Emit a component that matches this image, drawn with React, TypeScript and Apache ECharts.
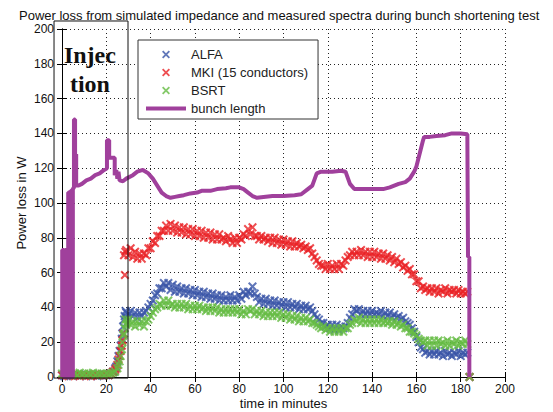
import React, { useEffect, useRef } from 'react';
import * as echarts from 'echarts';

// Power loss values sampled every minute, t = 0 .. 184
const alfa: number[] = [
  1, 0.5, 1, 1.5, 1, 0.5, 1, 1, 1.5, 1,
  1, 0.5, 1, 1, 1.5, 1, 0.5, 1, 1, 1.5,
  1, 1, 2, 3, 5, 9, 15, 22,
  33, 37,
  36, 38, 35, 37, 34, 37, 35, 37, 38, 40,
  42, 44, 47, 48, 51, 51, 54, 52,
  54, 50, 53, 49, 52, 49, 51, 48, 51, 48,
  50, 47, 50, 47, 49, 46, 49, 46, 48, 45,
  48, 45, 47, 44, 47, 44, 46, 44, 47, 44,
  46, 44, 47, 45, 49, 47, 49, 48, 52, 48,
  46, 43, 45, 42, 45, 42, 44, 41, 44, 41,
  43, 41, 43, 40, 43, 40, 42, 40, 42, 39,
  41, 39, 41, 39, 40, 38, 36, 34, 33, 31,
  31, 29, 30, 28, 30, 27, 30, 27, 29, 28,
  29, 31, 34, 36, 39, 38, 39, 36, 38, 36,
  38, 36, 38, 36, 37, 36, 38, 35, 37, 35,
  37, 34, 36, 34, 35, 33, 34, 32, 31, 30,
  28, 26, 23, 20, 17, 16, 14, 15, 13, 15,
  13, 15, 13, 14, 12, 15, 13, 14, 12, 14,
  13, 15, 12, 14, 13, 14, 0,
];
const mki: number[] = [
  1, 1.5, 1, 0.5, 1, 1.5, 1, 1, 0.5, 1,
  1.5, 1, 1, 0.5, 1, 1.5, 1, 1, 1.5, 1,
  1.5, 1, 2, 3, 4, 7, 12, 18,
  70, 73,
  70, 74, 69, 72, 68, 71, 68, 71, 70, 74,
  74, 78, 77, 81, 81, 84, 84, 87,
  84, 88, 84, 87, 83, 86, 83, 86, 82, 85,
  82, 85, 81, 84, 81, 84, 80, 83, 80, 83,
  79, 82, 79, 82, 79, 80, 78, 81, 79, 77,
  80, 77, 80, 79, 82, 81, 85, 82, 86, 81,
  81, 79, 81, 79, 80, 78, 80, 77, 80, 77,
  79, 76, 79, 76, 78, 75, 78, 75, 77, 75,
  76, 74, 75, 73, 74, 71, 69, 67, 65, 64,
  64, 62, 65, 62, 64, 62, 65, 62, 65, 64,
  67, 69, 70, 72, 70, 72, 70, 73, 70, 72,
  69, 72, 69, 72, 69, 71, 68, 71, 68, 70,
  67, 69, 66, 68, 65, 66, 63, 64, 61, 62,
  59, 59, 55, 55, 51, 52, 50, 51, 49, 51,
  49, 51, 48, 50, 49, 51, 48, 50, 49, 50,
  48, 50, 48, 49, 48, 49, 0,
];
const bsrt: number[] = [
  2, 1.5, 2.5, 1, 2, 1.5, 2, 1, 2.5, 1.5,
  2, 1, 2, 1.5, 2.5, 1, 2, 1.5, 2, 1,
  2, 1.5, 2, 2.5, 3, 5, 9, 16,
  25, 30,
  33, 30, 32, 29, 32, 30, 32, 29, 32, 33,
  35, 37, 39, 40, 42, 41, 44, 41,
  44, 41, 42, 40, 42, 40, 42, 40, 42, 39,
  41, 39, 41, 39, 41, 39, 40, 38, 40, 38,
  40, 38, 40, 37, 39, 37, 39, 37, 39, 37,
  39, 37, 39, 36, 38, 36, 39, 38, 39, 36,
  38, 36, 38, 35, 37, 35, 37, 35, 37, 35,
  37, 34, 36, 34, 36, 33, 35, 33, 35, 32,
  34, 32, 34, 32, 33, 31, 31, 30, 29, 28,
  29, 27, 28, 26, 28, 26, 28, 26, 28, 26,
  28, 28, 30, 31, 33, 32, 34, 31, 33, 31,
  33, 31, 33, 31, 33, 31, 33, 31, 32, 31,
  32, 30, 32, 30, 31, 29, 30, 28, 28, 26,
  26, 25, 24, 22, 21, 20, 21, 18, 21, 18,
  21, 18, 21, 19, 20, 18, 21, 18, 20, 19,
  21, 18, 20, 19, 21, 19, 0,
];

// extra scattered points during the ramp at end of injection [time, W]
const alfaRamp: number[][] = [[23.5, 3], [24.5, 6], [25.5, 12], [26.5, 18], [27.2, 25], [27.6, 29], [28.3, 35], [28.7, 38], [29.3, 34]];
const mkiRamp: number[][] = [[24.5, 5], [25.5, 10], [26.5, 15], [27.3, 21], [27.7, 25], [28.4, 58.6], [28.6, 72]];
const bsrtRamp: number[][] = [[25.5, 7], [26.5, 12], [27.3, 20], [27.7, 24], [28.3, 28], [28.7, 33], [29.3, 31]];

// bunch length trace [time, value]
const bunchLength: number[][] = [
  [0.1, 0], [0.1, 73], [0.9, 73], [0.9, 0], [1.5, 0], [1.5, 73], [2.2, 73], [2.2, 0],
  [2.8, 0], [2.8, 52], [2.8, 106], [3.3, 106], [3.3, 0], [3.9, 0], [3.9, 107], [4.5, 107],
  [4.5, 0], [4.9, 0], [4.9, 108], [5.4, 109], [5.4, 148], [5.9, 148], [5.9, 128], [6.4, 128],
  [6.4, 110], [7.5, 110], [9, 111], [11, 113], [13, 114], [15, 116], [17, 117], [19, 119],
  [20.3, 120], [20.3, 136], [21.3, 136], [21.3, 126], [23.8, 126], [23.8, 116], [24.5, 119],
  [25, 114], [25.5, 118], [26, 113], [27.5, 112.5], [29, 114], [32, 116], [34, 118], [36.5, 119],
  [39, 117], [41, 114], [43, 110], [45, 106], [47, 104], [49, 103], [51, 103.5], [53, 104],
  [55, 104.5], [58, 105.5], [61, 106], [63, 107], [67, 107], [70, 108], [74, 108.5], [76, 109],
  [80, 109], [82, 108], [84, 106], [86, 104], [88, 103], [91, 103.5], [95, 104], [100, 104],
  [105, 104.5], [108, 105], [111, 108], [113, 110], [115, 117], [117, 118], [122, 118],
  [126, 118.5], [128, 118], [130, 111], [132, 108], [135, 108], [140, 108], [145, 108],
  [148, 109], [150, 110], [152, 111], [155, 112], [157, 114], [159, 118], [160, 121],
  [161, 126], [162, 131], [163, 136], [163.5, 138], [166, 138], [169, 138.5], [173, 139],
  [176, 140], [180, 140], [183, 139.5], [183.3, 69], [183.9, 69], [183.9, 0],
];

const X_SYMBOL = 'path://M0,1.6L1.6,0L5,3.4L8.4,0L10,1.6L6.6,5L10,8.4L8.4,10L5,6.6L1.6,10L0,8.4L3.4,5Z';
const LINE_ICON = 'path://M0,0H40V4H0Z';
const FONT = 'Liberation Sans, Arial, sans-serif';

const toPairs = (vals: number[], extra: number[][]) =>
  vals.map((v, i) => [i, v]).concat(extra);

export default function App() {
  const ref = useRef<HTMLDivElement>(null);
  useEffect(() => {
    document.body.style.margin = '0';
    if (!ref.current) return;
    const chart = echarts.init(ref.current, undefined, { renderer: 'svg' });
    const axisCommon = {
      type: 'value' as const,
      min: 0,
      max: 200,
      interval: 20,
      axisLine: { show: true, lineStyle: { color: '#000', width: 1 } },
      axisTick: { show: true, inside: true, length: 5, lineStyle: { color: '#000' } },
    };
    const gridLine = { show: true, lineStyle: { color: '#222', type: [1, 3], width: 1 } };
    chart.setOption({
      animation: false,
      backgroundColor: '#fff',
      title: {
        text: 'Power loss from simulated impedance and measured spectra during bunch shortening test',
        left: 14,
        top: 4,
        textStyle: { fontFamily: FONT, fontSize: 13, fontWeight: 'normal', color: '#111' },
      },
      grid: { left: 62, right: 48, top: 29, bottom: 35, containLabel: false, outerBoundsMode: 'none' },
      legend: {
        left: 138,
        top: 40,
        orient: 'vertical',
        selectedMode: false,
        itemWidth: 40,
        itemHeight: 8,
        itemGap: 5,
        padding: [8, 10, 4, 8],
        borderColor: '#333',
        borderWidth: 1,
        borderRadius: 0,
        backgroundColor: '#fff',
        textStyle: { fontFamily: FONT, fontSize: 13, color: '#222' },
        data: [
          { name: 'ALFA', icon: X_SYMBOL },
          { name: 'MKI (15 conductors)', icon: X_SYMBOL },
          { name: 'BSRT', icon: X_SYMBOL },
          { name: 'bunch length', icon: LINE_ICON },
        ],
      },
      xAxis: [
        {
          ...axisCommon,
          position: 'bottom',
          name: 'time in minutes',
          nameLocation: 'middle',
          nameGap: 20,
          nameMoveOverlap: false,
          nameTextStyle: { fontFamily: FONT, fontSize: 13, color: '#111' },
          axisLabel: { fontFamily: FONT, fontSize: 12, color: '#111', margin: 6 },
          splitLine: gridLine,
        },
        {
          ...axisCommon,
          position: 'top',
          axisLabel: { show: false },
          splitLine: { show: false },
        },
      ],
      yAxis: [
        {
          ...axisCommon,
          position: 'left',
          name: 'Power loss in W',
          nameLocation: 'middle',
          nameGap: 34,
          nameMoveOverlap: false,
          nameTextStyle: { fontFamily: FONT, fontSize: 13, color: '#111' },
          axisLabel: { fontFamily: FONT, fontSize: 12, color: '#111', margin: 8 },
          splitLine: gridLine,
        },
        {
          ...axisCommon,
          position: 'right',
          axisLabel: { show: false },
          splitLine: { show: false },
        },
      ],
      series: [
        {
          type: 'scatter',
          name: 'ALFA',
          data: toPairs(alfa, alfaRamp),
          symbol: X_SYMBOL,
          symbolSize: 9,
          itemStyle: { color: '#3a55a8' },
          z: 2,
        },
        {
          type: 'scatter',
          name: 'MKI (15 conductors)',
          data: toPairs(mki, mkiRamp),
          symbol: X_SYMBOL,
          symbolSize: 9,
          itemStyle: { color: '#ea2226' },
          z: 3,
        },
        {
          type: 'scatter',
          name: 'BSRT',
          data: toPairs(bsrt, bsrtRamp),
          symbol: X_SYMBOL,
          symbolSize: 9,
          itemStyle: { color: '#65bb44' },
          z: 4,
        },
        {
          type: 'line',
          name: 'bunch length',
          data: bunchLength,
          showSymbol: false,
          symbol: 'none',
          lineStyle: { color: '#a0409c', width: 4 },
          itemStyle: { color: '#a0409c' },
          z: 5,
        },
      ],
    });

    const finder = { xAxisIndex: 0, yAxisIndex: 0 };
    const p1 = chart.convertToPixel(finder, [-3.6, 204.6]) as number[];
    const p2 = chart.convertToPixel(finder, [29.8, -0.6]) as number[];
    const t1 = chart.convertToPixel(finder, [12.6, 185]) as number[];
    const t2 = chart.convertToPixel(finder, [12.6, 168.4]) as number[];
    const injStyle = {
      fill: '#111',
      font: 'bold 24px "Liberation Serif", "Times New Roman", serif',
      align: 'center',
      verticalAlign: 'middle',
    };
    chart.setOption({
      graphic: [
        {
          type: 'rect',
          shape: { x: p1[0], y: p1[1], width: p2[0] - p1[0], height: p2[1] - p1[1] },
          style: { fill: 'none', stroke: '#111', lineWidth: 1 },
          z: 10,
        },
        { type: 'text', x: t1[0], y: t1[1], style: { ...injStyle, text: 'Injec' }, z: 10 },
        { type: 'text', x: t2[0], y: t2[1], style: { ...injStyle, text: 'tion' }, z: 10 },
      ],
    });

    return () => chart.dispose();
  }, []);
  return <div ref={ref} style={{ width: 553, height: 412 }} />;
}
